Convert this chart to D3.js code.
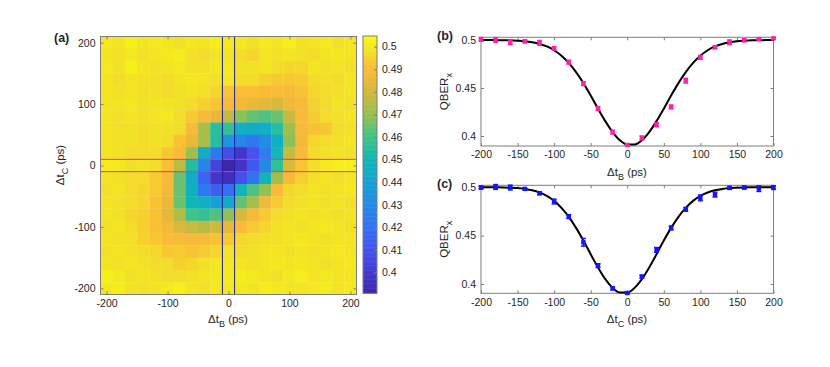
<!DOCTYPE html>
<html>
<head>
<meta charset="utf-8">
<script src="https://cdnjs.cloudflare.com/ajax/libs/d3/7.8.5/d3.min.js"></script>
<style>
  body { margin: 0; background: #fff; }
  text { font-family: "Liberation Sans", Arial, Helvetica, sans-serif; fill: #262626; }
</style>
</head>
<body>
<div id="chart"></div>
<script>

// delays in ps (heatmap columns / rows, and the cuts)
var delays = [-200,-180,-160,-140,-120,-100,-80,-60,-40,-20,0,20,40,60,80,100,120,140,160,180,200];

// heatmap rows, top (dtC = 200) to bottom (dtC = -200), columns dtB = -200..200
var qberMap = [
  [0.500,0.499,0.502,0.499,0.500,0.499,0.498,0.500,0.499,0.501,0.4997,0.500,0.498,0.500,0.499,0.501,0.498,0.499,0.500,0.498,0.499],
  [0.499,0.498,0.500,0.498,0.499,0.500,0.501,0.498,0.497,0.499,0.4986,0.497,0.496,0.499,0.498,0.499,0.498,0.497,0.499,0.500,0.499],
  [0.500,0.498,0.502,0.499,0.498,0.499,0.500,0.498,0.498,0.500,0.4997,0.498,0.498,0.499,0.497,0.496,0.496,0.499,0.498,0.499,0.498],
  [0.499,0.497,0.499,0.498,0.498,0.497,0.499,0.500,0.499,0.498,0.4993,0.497,0.497,0.495,0.494,0.493,0.494,0.497,0.498,0.497,0.499],
  [0.499,0.498,0.499,0.498,0.498,0.497,0.498,0.499,0.498,0.496,0.4924,0.491,0.491,0.490,0.490,0.489,0.492,0.496,0.497,0.498,0.499],
  [0.499,0.499,0.500,0.498,0.499,0.499,0.498,0.497,0.495,0.493,0.4890,0.488,0.486,0.484,0.482,0.487,0.489,0.495,0.497,0.499,0.498],
  [0.499,0.498,0.499,0.498,0.499,0.500,0.497,0.494,0.489,0.486,0.4772,0.469,0.464,0.462,0.465,0.478,0.489,0.494,0.497,0.498,0.499],
  [0.499,0.498,0.498,0.497,0.498,0.498,0.497,0.489,0.473,0.456,0.4579,0.446,0.445,0.446,0.455,0.472,0.489,0.492,0.493,0.497,0.498],
  [0.499,0.498,0.498,0.497,0.498,0.497,0.492,0.486,0.473,0.455,0.4352,0.429,0.423,0.432,0.446,0.469,0.488,0.496,0.497,0.498,0.499],
  [0.499,0.498,0.497,0.497,0.497,0.493,0.489,0.471,0.445,0.424,0.4076,0.399,0.410,0.426,0.451,0.478,0.489,0.497,0.498,0.499,0.498],
  [0.5007,0.5000,0.4976,0.4986,0.4970,0.4914,0.4769,0.4545,0.4286,0.4041,0.3907,0.3980,0.4117,0.4303,0.4576,0.4820,0.4924,0.4976,0.4997,0.5010,0.5017],
  [0.499,0.498,0.497,0.497,0.494,0.489,0.465,0.445,0.416,0.399,0.3955,0.409,0.422,0.449,0.472,0.489,0.495,0.498,0.499,0.498,0.499],
  [0.498,0.499,0.497,0.496,0.494,0.488,0.465,0.447,0.424,0.414,0.4190,0.449,0.462,0.470,0.489,0.496,0.497,0.499,0.498,0.499,0.500],
  [0.499,0.498,0.497,0.496,0.492,0.486,0.465,0.450,0.447,0.440,0.4431,0.464,0.473,0.487,0.494,0.497,0.498,0.499,0.498,0.499,0.498],
  [0.499,0.498,0.496,0.495,0.492,0.484,0.474,0.460,0.458,0.462,0.4697,0.481,0.489,0.494,0.497,0.498,0.499,0.498,0.499,0.498,0.499],
  [0.498,0.499,0.497,0.495,0.491,0.488,0.482,0.478,0.476,0.480,0.4852,0.490,0.494,0.496,0.498,0.499,0.498,0.499,0.500,0.499,0.498],
  [0.499,0.498,0.498,0.495,0.493,0.490,0.489,0.489,0.489,0.492,0.4938,0.496,0.497,0.498,0.498,0.499,0.500,0.499,0.498,0.499,0.499],
  [0.498,0.499,0.498,0.497,0.496,0.493,0.494,0.492,0.494,0.496,0.4983,0.497,0.498,0.499,0.499,0.498,0.499,0.498,0.499,0.500,0.499],
  [0.499,0.498,0.499,0.498,0.497,0.497,0.495,0.496,0.498,0.500,0.4997,0.499,0.498,0.499,0.500,0.499,0.500,0.499,0.498,0.499,0.500],
  [0.502,0.500,0.498,0.499,0.498,0.497,0.497,0.498,0.499,0.500,0.5003,0.501,0.500,0.499,0.498,0.500,0.501,0.499,0.500,0.499,0.499],
  [0.500,0.501,0.499,0.498,0.499,0.500,0.502,0.499,0.498,0.500,0.4997,0.500,0.499,0.501,0.500,0.499,0.499,0.500,0.501,0.499,0.500]
];
// dtC value of each heatmap row
var mapRows = [200,180,160,140,120,100,80,60,40,20,0,-20,-40,-60,-80,-100,-120,-140,-160,-180,-200];

// cut (b): QBER_x vs dtB, with error bars
var qberB = [0.5007,0.5000,0.4976,0.4986,0.4970,0.4914,0.4769,0.4545,0.4286,0.4041,0.3907,0.3980,0.4117,0.4303,0.4576,0.4820,0.4924,0.4976,0.4997,0.5010,0.5017];
var errB  = [0.0020,0.0025,0.0025,0.0015,0.0025,0.0015,0.0020,0.0020,0.0020,0.0020,0.0012,0.0020,0.0020,0.0020,0.0025,0.0020,0.0015,0.0025,0.0015,0.0010,0.0010];

// cut (c): QBER_x vs dtC, with error bars
var qberC = [0.4997,0.5003,0.4997,0.4983,0.4938,0.4852,0.4697,0.4431,0.4190,0.3955,0.3907,0.4076,0.4352,0.4579,0.4772,0.4890,0.4924,0.4993,0.4997,0.4986,0.4997];
var errC  = [0.0015,0.0025,0.0025,0.0010,0.0015,0.0025,0.0020,0.0040,0.0020,0.0015,0.0012,0.0015,0.0025,0.0020,0.0020,0.0030,0.0025,0.0015,0.0015,0.0030,0.0020];

// fitted curves every 10 ps
var fitX = [-200,-190,-180,-170,-160,-150,-140,-130,-120,-110,-100,-90,-80,-70,-60,-50,-40,-30,-20,-10,0,10,20,30,40,50,60,70,80,90,100,110,120,130,140,150,160,170,180,190,200];
var fitB = [0.5000,0.5000,0.4999,0.4998,0.4997,0.4993,0.4987,0.4976,0.4959,0.4933,0.4893,0.4836,0.4761,0.4665,0.4551,0.4422,0.4285,0.4155,0.4041,0.3955,0.3911,0.3911,0.3955,0.4041,0.4155,0.4285,0.4422,0.4551,0.4665,0.4761,0.4836,0.4893,0.4933,0.4959,0.4976,0.4987,0.4993,0.4997,0.4998,0.4999,0.5000];
var fitC = [0.5000,0.5000,0.4999,0.4998,0.4995,0.4991,0.4982,0.4968,0.4945,0.4910,0.4859,0.4787,0.4694,0.4580,0.4449,0.4308,0.4171,0.4050,0.3960,0.3911,0.3911,0.3960,0.4050,0.4171,0.4308,0.4449,0.4580,0.4694,0.4787,0.4859,0.4910,0.4945,0.4968,0.4982,0.4991,0.4995,0.4998,0.4999,0.5000,0.5000,0.5000];

// tick labels
var mapTicks = [-200,-100,0,100,200];
var cutTicks = [-200,-150,-100,-50,0,50,100,150,200];
var cbarTicks = [0.40,0.41,0.42,0.43,0.44,0.45,0.46,0.47,0.48,0.49,0.50];
var qberTicks = [0.40,0.45,0.50];

var width = 830, height = 367;
var axisColor = "#7d7d7d";
var pink = "#ff22a8", blue = "#1414ff", cutBlue = "#22229a";

var svg = d3.select("#chart").append("svg")
    .attr("width", width)
    .attr("height", height);

// parula-like colour scale
var cmapStops  = [0.3907,0.400,0.410,0.420,0.430,0.440,0.450,0.460,0.470,0.480,0.490,0.494,0.4975,0.5047];
var cmapColors = ["#3e26a8","#4438cf","#4552ef","#3370f3","#2489e6","#14a2d6","#10b6b6","#3fc38a","#95c052","#d2b83a","#fbba3a","#f6ca31","#f2df2a","#f9fb0e"];
var color = d3.scaleLinear().domain(cmapStops).range(cmapColors).clamp(true);

// matlab style labels: plain hyphen, no trailing zeros
var fmt = function(d) { return String(+d.toFixed(2)); };

// draw inward ticks on all four sides plus labels on bottom/left
function drawAxes(g, x, y, xTicks, yTicks, yFmt) {
  var xr = x.range(), yr = y.range();
  var w = xr[1] - xr[0], h = yr[0] - yr[1];
  var tl = 3;

  var gx = g.append("g").attr("transform", "translate(0," + yr[0] + ")")
      .call(d3.axisBottom(x).tickValues(xTicks).tickSizeInner(-tl).tickSizeOuter(0).tickPadding(5).tickFormat(fmt));
  var gxt = g.append("g").attr("transform", "translate(0," + yr[1] + ")")
      .call(d3.axisTop(x).tickValues(xTicks).tickSizeInner(-tl).tickSizeOuter(0).tickFormat(""));
  var gy = g.append("g").attr("transform", "translate(" + xr[0] + ",0)")
      .call(d3.axisLeft(y).tickValues(yTicks).tickSizeInner(-tl).tickSizeOuter(0).tickPadding(5).tickFormat(yFmt));
  var gyr = g.append("g").attr("transform", "translate(" + xr[1] + ",0)")
      .call(d3.axisRight(y).tickValues(yTicks).tickSizeInner(-tl).tickSizeOuter(0).tickFormat(""));

  [gx, gxt, gy, gyr].forEach(function(a) {
    a.select(".domain").remove();
    a.selectAll("line").attr("stroke", axisColor);
    a.selectAll("text").style("font-size", "10.5px").attr("fill", "#262626");
  });

  g.append("rect")
    .attr("x", xr[0]).attr("y", yr[1])
    .attr("width", w).attr("height", h)
    .attr("fill", "none").attr("stroke", axisColor).attr("stroke-width", 1);
}

// text with a subscript, e.g. Δt_B (ps)
function subLabel(g, x, y, base, sub, tail, rotate) {
  var t = g.append("text")
    .attr("text-anchor", "middle")
    .style("font-size", "11.5px")
    .attr("transform", "translate(" + x + "," + y + ")" + (rotate ? " rotate(-90)" : ""));
  t.append("tspan").text(base);
  t.append("tspan").attr("dy", 3.5).style("font-size", "9px").text(sub);
  if (tail) t.append("tspan").attr("dy", -3.5).text(tail);
  return t;
}

// ---------- (a) heatmap ----------
var ax = d3.scaleLinear().domain([-210, 210]).range([100.5, 356.5]);
var ay = d3.scaleLinear().domain([-210, 210]).range([294.5, 36.5]);
var ga = svg.append("g");

qberMap.forEach(function(row, j) {
  ga.selectAll(null)
    .data(row)
    .enter().append("rect")
    .attr("x", function(d, i) { return ax(delays[i] - 10); })
    .attr("y", ay(mapRows[j] + 10))
    .attr("width", ax(10) - ax(-10) + 0.3)
    .attr("height", ay(-10) - ay(10) + 0.3)
    .attr("fill", function(d) { return color(d); });
});

// highlighted cuts
ga.append("rect")
  .attr("x", ax(-210)).attr("y", ay(10))
  .attr("width", ax(210) - ax(-210)).attr("height", ay(-10) - ay(10))
  .attr("fill", "none").attr("stroke", pink).attr("stroke-width", 1);
ga.append("rect")
  .attr("x", ax(-10)).attr("y", ay(210))
  .attr("width", ax(10) - ax(-10)).attr("height", ay(-210) - ay(210))
  .attr("fill", "none").attr("stroke", cutBlue).attr("stroke-width", 1);

drawAxes(ga, ax, ay, mapTicks, mapTicks, fmt);
subLabel(ga, 228, 323, "\u0394t", "B", " (ps)");
subLabel(ga, 64, 165, "\u0394t", "C", " (ps)", true);
ga.append("text").attr("x", 54).attr("y", 42)
  .style("font-size", "12.5px").style("font-weight", "bold").text("(a)");

// colorbar
var cb = d3.scaleLinear().domain([0.3907, 0.5047]).range([293.5, 36]);
var gc = svg.append("g");
var slices = d3.range(0, 200).map(function(i) { return 0.3907 + (0.5047 - 0.3907) * i / 200; });
gc.selectAll(null).data(slices).enter().append("rect")
  .attr("x", 363).attr("width", 14)
  .attr("y", function(d) { return cb(d + 0.00057); })
  .attr("height", cb(0) - cb(0.00057) + 0.5)
  .attr("fill", function(d) { return color(d + 0.000285); });
gc.append("rect").attr("x", 363).attr("y", 36).attr("width", 14).attr("height", 257.5)
  .attr("fill", "none").attr("stroke", axisColor);
var gct = gc.append("g").attr("transform", "translate(377,0)")
  .call(d3.axisRight(cb).tickValues(cbarTicks).tickSizeInner(-3).tickSizeOuter(0).tickPadding(5).tickFormat(fmt));
gct.select(".domain").remove();
gct.selectAll("line").attr("stroke", axisColor);
gct.selectAll("text").style("font-size", "10.5px");

// ---------- (b) and (c) cuts ----------
function cutPanel(top, bottom, yDom, vals, errs, fit, col, label, sub) {
  var x = d3.scaleLinear().domain([-200, 200]).range([481, 773.5]);
  var y = d3.scaleLinear().domain(yDom).range([bottom, top]);
  var g = svg.append("g");

  drawAxes(g, x, y, cutTicks, qberTicks, fmt);

  var line = d3.line()
      .x(function(d, i) { return x(fitX[i]); })
      .y(function(d) { return y(d); })
      .curve(d3.curveMonotoneX);

  g.append("path").datum(fit)
    .attr("d", line).attr("fill", "none")
    .attr("stroke", "#000").attr("stroke-width", 2);

  var pts = g.selectAll(null).data(vals).enter().append("g")
    .attr("transform", function(d, i) { return "translate(" + x(delays[i]) + ",0)"; });
  pts.append("line")
    .attr("y1", function(d, i) { return y(d - errs[i]); })
    .attr("y2", function(d, i) { return y(d + errs[i]); })
    .attr("stroke", col).attr("stroke-width", 1.4);
  pts.append("line").attr("x1", -2.5).attr("x2", 2.5)
    .attr("y1", function(d, i) { return y(d - errs[i]); })
    .attr("y2", function(d, i) { return y(d - errs[i]); })
    .attr("stroke", col).attr("stroke-width", 1.4);
  pts.append("line").attr("x1", -2.5).attr("x2", 2.5)
    .attr("y1", function(d, i) { return y(d + errs[i]); })
    .attr("y2", function(d, i) { return y(d + errs[i]); })
    .attr("stroke", col).attr("stroke-width", 1.4);
  pts.append("rect")
    .attr("x", -2.2).attr("width", 4.4).attr("height", 4.4)
    .attr("y", function(d) { return y(d) - 2.2; })
    .attr("fill", col);

  subLabel(g, 627, bottom + 30, "\u0394t", sub, " (ps)");
  subLabel(g, 448, (top + bottom) / 2, "QBER", "x", "", true);
  g.append("text").attr("x", 437).attr("y", top + 3)
    .style("font-size", "12.5px").style("font-weight", "bold").text(label);
}

cutPanel(37.3, 146, [0.3896, 0.5028], qberB, errB, fitB, pink, "(b)", "B");
cutPanel(185.3, 293.3, [0.3904, 0.502], qberC, errC, fitC, blue, "(c)", "C");

</script>
</body>
</html>
